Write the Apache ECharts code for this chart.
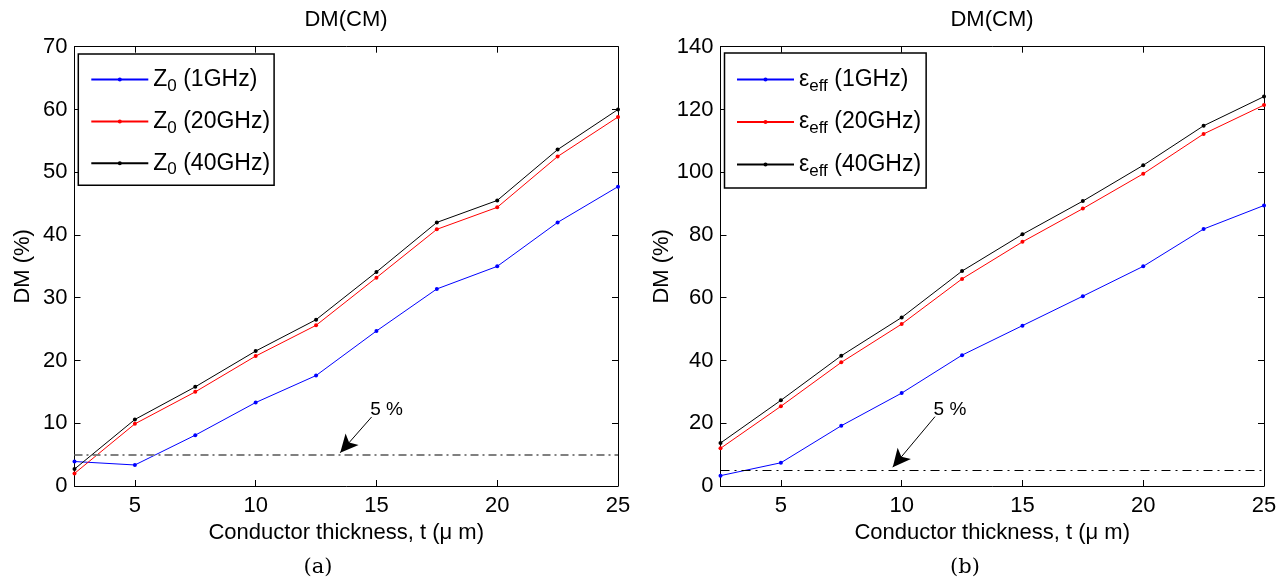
<!DOCTYPE html>
<html><head><meta charset="utf-8">
<script src="https://cdn.jsdelivr.net/npm/echarts@6/dist/echarts.min.js"></script>
<style>html,body{margin:0;padding:0;background:#fff}#c{width:1288px;height:579px}</style>
</head><body><div id="c"></div><script>
// ---- data ----
const thickness = [2.5, 5, 7.5, 10, 12.5, 15, 17.5, 20, 22.5, 25];
const z0_1GHz  = [3.9, 3.35, 8.1, 13.3, 17.6, 24.7, 31.4, 35.0, 42.0, 47.7];
const z0_20GHz = [2.0, 9.9, 15.0, 20.7, 25.6, 33.2, 40.9, 44.4, 52.5, 58.8];
const z0_40GHz = [2.7, 10.6, 15.8, 21.5, 26.5, 34.1, 42.0, 45.5, 53.6, 60.0];
const eps_1GHz  = [3.3, 7.4, 19.2, 29.6, 41.7, 51.1, 60.5, 70.0, 81.9, 89.4];
const eps_20GHz = [12.0, 25.4, 39.4, 51.6, 66.0, 77.8, 88.4, 99.5, 112.2, 121.4];
const eps_40GHz = [13.7, 27.3, 41.5, 53.7, 68.5, 80.2, 90.8, 102.2, 114.8, 124.1];
const xTicks = [5, 10, 15, 20, 25];
const threshold = 5;
const thresholdLabel = '5 %';
const arrowA = [[14.8, 11.0], [13.5, 5.3]];
const labelA = [15.42, 12.1];
const arrowB = [[11.38, 22.1], [9.63, 6.0]];
const labelB = [12.0, 24.4];
const namesA = ['Z_0 (1GHz)', 'Z_0 (20GHz)', 'Z_0 (40GHz)'];
const namesB = ['ε_eff (1GHz)', 'ε_eff (20GHz)', 'ε_eff (40GHz)'];
const colors = ['#0000ff', '#ff0000', '#000000'];

const F = 'Liberation Sans';
const FS = 22;
const pair = a => thickness.map((x, i) => [x, a[i]]);

function xAx(grid, pos, labels) {
  return {
    type: 'value', gridIndex: grid, position: pos, min: 2.5, max: 25,
    axisLine: {show: true, onZero: false, lineStyle: {color: '#000', width: 1}},
    axisTick: {show: true, inside: true, length: 6, customValues: xTicks, lineStyle: {color: '#000'}},
    axisLabel: {show: labels, customValues: xTicks, color: '#000', fontSize: FS, fontFamily: F, margin: 9},
    splitLine: {show: false},
    name: labels ? 'Conductor thickness, t (μ m)' : '',
    nameLocation: 'middle', nameGap: 34,
    nameTextStyle: {color: '#000', fontSize: FS, fontFamily: F}
  };
}
function yAx(grid, pos, max, interval, labels) {
  return {
    type: 'value', gridIndex: grid, position: pos, min: 0, max: max, interval: interval,
    axisLine: {show: true, onZero: false, lineStyle: {color: '#000', width: 1}},
    axisTick: {show: true, inside: true, length: 6, lineStyle: {color: '#000'}},
    axisLabel: {show: labels, color: '#000', fontSize: FS, fontFamily: F, margin: 7},
    splitLine: {show: false},
    name: labels ? 'DM (%)' : '',
    nameLocation: 'middle', nameGap: 41,
    nameTextStyle: {color: '#000', fontSize: FS, fontFamily: F}
  };
}
function legendFmt(n) {
  const idx = n.indexOf('_');
  const base = n.slice(0, idx);
  const rest = n.slice(idx + 1);
  const sub = rest.split(' ')[0];
  const tail = rest.slice(sub.length);
  return '{m|' + base + '}{s|' + sub + '}{m|' + tail + '}';
}
const rich = {
  m: {fontSize: 23, fontFamily: F, color: '#000', lineHeight: 30, verticalAlign: 'middle'},
  s: {fontSize: 17, fontFamily: F, color: '#000', lineHeight: 10, verticalAlign: 'bottom'}
};
function legend(data, left, top, pad, gap) {
  return {
    data: data, orient: 'vertical', left: left, top: top,
    padding: pad, itemGap: gap, itemWidth: 57, itemHeight: 5,
    borderColor: '#000', borderWidth: 1.5, backgroundColor: '#fff',
    formatter: legendFmt, selectedMode: false,
    textStyle: {rich: rich}
  };
}
function lineSeries(name, arr, ci, xi, yi) {
  return {
    name: name, type: 'line', xAxisIndex: xi, yAxisIndex: yi, data: pair(arr),
    symbol: 'circle', symbolSize: 4, showSymbol: true,
    itemStyle: {color: colors[ci]}, lineStyle: {color: colors[ci], width: 1},
    animation: false, z: 3 + ci
  };
}
function annot(dashStyle, arrow) {
  return {
    silent: true, animation: false, symbol: ['none', 'none'], label: {show: false},
    data: [
      {yAxis: threshold, lineStyle: dashStyle},
      [
        {coord: arrow[0], symbol: 'none', lineStyle: {color: '#000', width: 1, type: 'solid'}},
        {coord: arrow[1], symbol: 'arrow', symbolSize: [13, 18], itemStyle: {color: '#000'}, lineStyle: {color: '#000', width: 1, type: 'solid'}}
      ]
    ]
  };
}
function annotLabel(label) {
  return {
    silent: true, animation: false, symbol: 'circle', symbolSize: 1,
    itemStyle: {color: 'rgba(0,0,0,0)'},
    label: {show: true, position: 'inside', formatter: thresholdLabel, color: '#000', fontSize: 19, fontFamily: F},
    data: [{coord: label}]
  };
}

const sA = [lineSeries(namesA[0], z0_1GHz, 0, 0, 0), lineSeries(namesA[1], z0_20GHz, 1, 0, 0), lineSeries(namesA[2], z0_40GHz, 2, 0, 0)];
sA[0].markLine = annot({color: '#808080', width: 2, type: [8, 4, 2, 4]}, arrowA);
sA[0].markPoint = annotLabel(labelA);
const sB = [lineSeries(namesB[0], eps_1GHz, 0, 2, 2), lineSeries(namesB[1], eps_20GHz, 1, 2, 2), lineSeries(namesB[2], eps_40GHz, 2, 2, 2)];
sB[0].markLine = annot({color: '#000', width: 1, type: [9, 5, 2, 5]}, arrowB);
sB[0].markPoint = annotLabel(labelB);

const chart = echarts.init(document.getElementById('c'), null, {renderer: 'canvas'});
chart.setOption({
  animation: false,
  backgroundColor: '#fff',
  grid: [
    {left: 74.5, top: 46.7, width: 543.5, height: 439.3},
    {left: 720.5, top: 46.7, width: 543.5, height: 439.3}
  ],
  xAxis: [xAx(0, 'bottom', true), xAx(0, 'top', false), xAx(1, 'bottom', true), xAx(1, 'top', false)],
  yAxis: [yAx(0, 'left', 70, 10, true), yAx(0, 'right', 70, 10, false), yAx(1, 'left', 140, 20, true), yAx(1, 'right', 140, 20, false)],
  legend: [
    legend(namesA, 78.3, 54, [14, 4, 7, 12], 15.4),
    legend(namesB, 724.5, 53, [15, 5, 8.5, 11.5], 16)
  ],
  graphic: [
    {type: 'text', x: 346, y: 20, style: {text: 'DM(CM)', fontSize: FS, fontFamily: F, fill: '#000', textAlign: 'center', textVerticalAlign: 'middle'}},
    {type: 'text', x: 992, y: 20, style: {text: 'DM(CM)', fontSize: FS, fontFamily: F, fill: '#000', textAlign: 'center', textVerticalAlign: 'middle'}},
    {type: 'text', x: 318, y: 568, style: {text: '(a)', fontSize: 21, fontFamily: 'DejaVu Serif', fill: '#000', textAlign: 'center', textVerticalAlign: 'middle'}},
    {type: 'text', x: 965, y: 568, style: {text: '(b)', fontSize: 21, fontFamily: 'DejaVu Serif', fill: '#000', textAlign: 'center', textVerticalAlign: 'middle'}}
  ],
  series: sA.concat(sB)
});
</script></body></html>
